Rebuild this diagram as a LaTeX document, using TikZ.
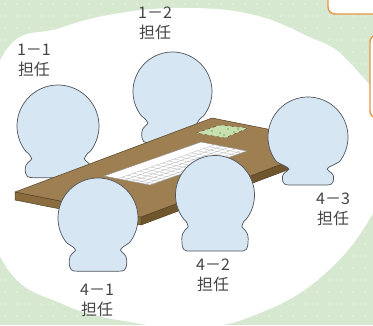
\documentclass[tikz,border=0pt]{standalone}
\usepackage{fontspec}
\newfontfamily\jpfont{Noto Sans CJK JP}
\definecolor{MeetGreen}{RGB}{214,232,208}
\definecolor{HeadBlue}{RGB}{214,230,243}
\definecolor{HeadLine}{RGB}{80,84,92}
\definecolor{TableTop}{RGB}{158,127,82}
\definecolor{TableEnd}{RGB}{138,108,63}
\definecolor{TableFront}{RGB}{112,86,44}
\definecolor{TableLine}{RGB}{84,64,36}
\definecolor{NoteOrange}{RGB}{232,148,66}
\definecolor{LabelGray}{RGB}{68,68,68}
\definecolor{PaperGreen}{RGB}{200,224,176}

% centre x, centre y, radius, lobe depth, lobe half width
\newcommand{\person}[5]{%
  \begin{scope}[shift={(#1,#2)}, scale=#3]
    \filldraw[member] plot[domain=142:398, samples=60] ({cos(\x)},{sin(\x)})
      .. controls (0.70,0.68) and ({#5-0.14},0.74) .. ({#5-0.16},0.80)
      .. controls ({#5-0.14},0.86) and (#5,0.90) .. (#5,{(0.80+#4)/2})
      .. controls (#5,#4) and ({#5-0.07},#4) .. ({#5-0.22},#4)
      -- ({0.22-#5},#4)
      .. controls ({0.07-#5},#4) and (-#5,#4) .. (-#5,{(0.80+#4)/2})
      .. controls (-#5,0.90) and ({0.14-#5},0.86) .. ({0.16-#5},0.80)
      .. controls ({0.14-#5},0.74) and (-0.70,0.68) .. (-0.788,0.616) -- cycle;
  \end{scope}}

\begin{document}
\begin{tikzpicture}[
    x=1pt, y=-1pt,
    member/.style={fill=HeadBlue, draw=HeadLine, line width=0.7pt},
    seat/.style={font=\jpfont\fontsize{16}{20}\selectfont, text=LabelGray, align=center, inner sep=0pt},
    note/.style={draw=NoteOrange, fill=white, line width=1.4pt, rounded corners=7pt},
    board/.style={draw=TableLine, line width=0.5pt, line join=round},
    sheet/.style={fill=white, draw=black!45, line width=0.4pt},
    rule/.style={draw=black!30, line width=0.3pt}
  ]
  \useasboundingbox (0,0) rectangle (373,325);
  \clip (0,0) rectangle (373,325);

  % dotted green ground and the white floor
  \fill[MeetGreen] (0,0) rectangle (373,325);
  \foreach \i in {0,...,31}
    \foreach \j in {0,...,27}
      \fill[white, opacity=0.55] (5+12*\i,4+12*\j) circle (0.8);
  \fill[white] plot[smooth cycle, tension=0.7] coordinates {
    (-25,160) (5,52) (60,28) (120,13) (185,8) (250,14) (305,35) (350,63)
    (400,140) (372,215) (320,278) (255,315) (195,328) (130,322) (65,305) (5,265)};

  % notes at the edge
  \draw[note] (328,-20) rectangle (420,14);
  \draw[note] (370,35) rectangle (420,118);

  % people behind the table
  \person{58}{126}{41}{1.26}{0.80}
  \person{172.5}{91.5}{39.5}{1.30}{0.78}

  % table
  \coordinate (tl) at (15,192);
  \coordinate (tb) at (212,118);
  \coordinate (tr) at (338,143);
  \coordinate (tf) at (141,217);
  \coordinate (tlb) at (15,200);
  \coordinate (tfb) at (141,225);
  \coordinate (trb) at (338,151);
  \filldraw[board, fill=TableEnd] (tl) -- (tf) -- (tfb) -- (tlb) -- cycle;
  \filldraw[board, fill=TableFront] (tf) -- (tr) -- (trb) -- (tfb) -- cycle;
  \filldraw[board, fill=TableTop] (tl) -- (tb) -- (tr) -- (tf) -- cycle;

  % papers on the table
  \filldraw[sheet] (104,176) -- (201,142) -- (247,151) -- (150,185) -- cycle;
  \foreach \b in {0.3,0.45,0.6,0.75,0.9}
    \draw[rule] ({104+46*\b},{176+9*\b}) -- ({201+46*\b},{142+9*\b});
  \foreach \a in {0.04,0.1,...,0.98}
    \draw[rule] ({104+97*\a+46*0.3},{176-34*\a+9*0.3}) -- ({104+97*\a+46},{176-34*\a+9});
  \filldraw[fill=PaperGreen, draw=TableLine, dashed, line width=0.4pt]
    (196,133) -- (220,125) -- (248,128) -- (225,138) -- cycle;
  \foreach \p in {(212,131),(220,133),(228,129),(234,132),(224,135),(238,129)}
    \fill[green!45!black, opacity=0.5] \p circle (0.9);

  % people in front
  \person{308}{137}{40}{1.20}{0.64}
  \person{98}{218}{40}{1.33}{0.72}
  \person{215}{195}{39.5}{1.42}{0.84}

  % labels
  \node[seat] (t11) at (34,60) {1－1\\担任};
  \node[seat] (t12) at (155,23) {1－2\\担任};
  \node[seat] (t43) at (333,209) {4－3\\担任};
  \node[seat] (t42) at (213,275) {4－2\\担任};
  \node[seat] (t41) at (97,300) {4－1\\担任};
\end{tikzpicture}
\end{document}
